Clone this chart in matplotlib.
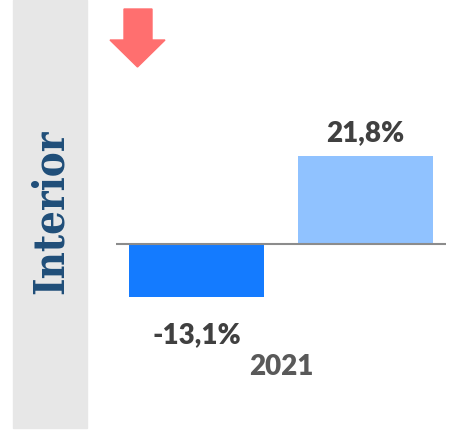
import matplotlib.pyplot as plt
from matplotlib.patches import Polygon, Rectangle

# data
category = "2021"
values = [-13.1, 21.8]
labels = ["-13,1%", "21,8%"]
bar_colors = ["#147BFF", "#90C2FF"]
section = "Interior"

W, H = 449, 434
fig = plt.figure(figsize=(W / 100, H / 100), dpi=100)
fig.patch.set_facecolor("white")

def px(x0, y0, x1, y1):
    # pixel box (top-left origin) -> figure fraction rect
    return [x0 / W, 1 - y1 / H, (x1 - x0) / W, (y1 - y0) / H]

# grey side strip with the section name
fig.patches.append(Rectangle((13 / W, 1 - 428 / H), 74 / W, 428 / H,
                             transform=fig.transFigure, color="#E7E7E7", zorder=0))
fig.text(51 / W, 1 - 212 / H, section, rotation=90, ha="center", va="center",
         fontsize=30, fontweight="bold", family="DejaVu Serif", stretch="condensed",
         color="#1F4E79")

# red down arrow
arrow = [(124, 9), (152, 9), (152, 40), (165, 40), (137.5, 67), (110, 40), (124, 40)]
fig.patches.append(Polygon([(x / W, 1 - y / H) for x, y in arrow], closed=True,
                           transform=fig.transFigure, color="#FF6F6F", zorder=1))

# bars
ax = fig.add_axes(px(116, 0, 446, H))
ax.set_facecolor("none")
pos = [0, 1]
ax.bar(pos, values, width=0.8, color=bar_colors, zorder=2)
ax.axhline(0, color="#8C8C8C", lw=1.5, zorder=3)
ax.set_xlim(-0.48, 1.48)
ax.set_ylim(-190 / 4.04, (H - 190) / 4.04)
ax.axis("off")

offsets = [-38, 23]
for p, v, lab, off in zip(pos, values, labels, offsets):
    ax.annotate(lab, (p, v), xytext=(0, off * 0.72), textcoords="offset points",
                ha="center", va="center", fontsize=20, fontweight="heavy",
                family="Lato", color="#404040")

ax.annotate(category, (0.5, 0), xytext=(0, -123 * 0.72), textcoords="offset points",
            ha="center", va="center", fontsize=20, fontweight="heavy",
            family="Lato", color="#595959")

fig.savefig("out.png", dpi=100)
